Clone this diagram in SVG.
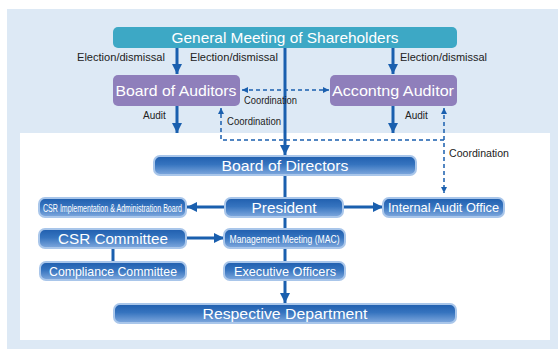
<svg xmlns="http://www.w3.org/2000/svg" width="558" height="349" viewBox="0 0 558 349">
<defs>
<linearGradient id="gb" x1="0" y1="0" x2="0" y2="1">
<stop offset="0" stop-color="#1f5eae"/>
<stop offset="0.45" stop-color="#3674bf"/>
<stop offset="1" stop-color="#80a9de"/>
</linearGradient>
<marker id="ah" viewBox="0 0 10 10" refX="10" refY="5" markerWidth="10" markerHeight="10" markerUnits="userSpaceOnUse" orient="auto-start-reverse">
<path d="M0,0 L10,5 L0,10 Z" fill="#1a5fae"/>
</marker>
<marker id="dh" viewBox="0 0 10 10" refX="10" refY="5" markerWidth="6" markerHeight="6" markerUnits="userSpaceOnUse" orient="auto-start-reverse">
<path d="M0,0 L10,5 L0,10 Z" fill="#1a5fae"/>
</marker>
<style>
.t{font-family:"Liberation Sans",Arial,sans-serif;fill:#fff;text-anchor:middle}
.s{font-family:"Liberation Sans",Arial,sans-serif;fill:#222;font-size:10px}
.bx{fill:url(#gb);stroke:#a9c6ea;stroke-width:2}
.c{stroke:#1a5fae;stroke-width:3;fill:none}
.d{stroke:#1a5fae;stroke-width:1.5;fill:none;stroke-dasharray:4 3}
</style>
</defs>
<rect x="7" y="9" width="551" height="340" fill="#dde9f5"/>
<rect x="20" y="133" width="530" height="207" fill="#fff"/>

<g id="connectors">
<line class="c" x1="177" y1="48" x2="177" y2="74" marker-end="url(#ah)"/>
<line class="c" x1="393" y1="48" x2="393" y2="74" marker-end="url(#ah)"/>
<line class="c" x1="285" y1="48" x2="285" y2="155" marker-end="url(#ah)"/>
<line class="c" x1="177" y1="106" x2="177" y2="133" marker-end="url(#ah)"/>
<line class="c" x1="393" y1="106" x2="393" y2="133" marker-end="url(#ah)"/>
<line class="c" x1="285" y1="175" x2="285" y2="198"/>
<line class="c" x1="225" y1="207" x2="187" y2="207" marker-end="url(#ah)"/>
<line class="c" x1="343" y1="207" x2="383" y2="207" marker-end="url(#ah)"/>
<line class="c" x1="285" y1="217" x2="285" y2="228"/>
<line class="c" x1="186" y1="238" x2="224" y2="238" marker-end="url(#ah)"/>
<line class="c" x1="113" y1="248" x2="113" y2="262"/>
<line class="c" x1="285" y1="248" x2="285" y2="262"/>
<line class="c" x1="285" y1="280" x2="285" y2="303" marker-end="url(#ah)"/>
<line class="d" x1="242" y1="90" x2="329" y2="90" marker-start="url(#dh)" marker-end="url(#dh)"/>
<path class="d" d="M444,140 L221,140 L221,108" marker-end="url(#dh)"/>
<line class="d" x1="444" y1="108" x2="444" y2="193" marker-start="url(#dh)" marker-end="url(#dh)"/>
<text class="s" x="77" y="61" textLength="88" lengthAdjust="spacingAndGlyphs">Election/dismissal</text>
<text class="s" x="190" y="61" textLength="88" lengthAdjust="spacingAndGlyphs">Election/dismissal</text>
<text class="s" x="400" y="61" textLength="87" lengthAdjust="spacingAndGlyphs">Election/dismissal</text>
<text class="s" x="143" y="119">Audit</text>
<text class="s" x="405" y="119">Audit</text>
<text class="s" x="244" y="104" textLength="53" lengthAdjust="spacingAndGlyphs">Coordination</text>
<text class="s" x="227" y="124.5" textLength="54" lengthAdjust="spacingAndGlyphs">Coordination</text>
<text class="s" x="449" y="157" textLength="60" lengthAdjust="spacingAndGlyphs">Coordination</text>
</g>

<g id="general-meeting">
<rect x="113" y="27" width="344" height="21" rx="5" fill="#3da8c5"/>
<text class="t" x="285" y="43" font-size="15" textLength="227" lengthAdjust="spacingAndGlyphs">General Meeting of Shareholders</text>
</g>
<g id="board-of-auditors">
<rect x="113" y="75" width="127" height="31" rx="5" fill="#8f7fbb"/>
<text class="t" x="176" y="96" font-size="15" textLength="121" lengthAdjust="spacingAndGlyphs">Board of Auditors</text>
</g>
<g id="accounting-auditor">
<rect x="330" y="75" width="127" height="31" rx="5" fill="#8f7fbb"/>
<text class="t" x="393" y="96" font-size="15" textLength="122" lengthAdjust="spacingAndGlyphs">Accontng Auditor</text>
</g>
<g id="board-of-directors">
<rect class="bx" x="154" y="156" width="262" height="19" rx="6"/>
<text class="t" x="285" y="170.5" font-size="15" textLength="127" lengthAdjust="spacingAndGlyphs">Board of Directors</text>
</g>
<g id="president">
<rect class="bx" x="225" y="198" width="118" height="19" rx="6"/>
<text class="t" x="284" y="212.5" font-size="15" textLength="65" lengthAdjust="spacingAndGlyphs">President</text>
</g>
<g id="csr-implementation">
<rect class="bx" x="39" y="198" width="147" height="19" rx="6"/>
<text class="t" x="112.5" y="211.5" font-size="11" textLength="139" lengthAdjust="spacingAndGlyphs">CSR Implementation &amp; Administration Board</text>
</g>
<g id="internal-audit-office">
<rect class="bx" x="383" y="198" width="121" height="19" rx="6"/>
<text class="t" x="443.5" y="212" font-size="13" textLength="111" lengthAdjust="spacingAndGlyphs">Internal Audit Office</text>
</g>
<g id="csr-committee">
<rect class="bx" x="39" y="229" width="147" height="19" rx="6"/>
<text class="t" x="113" y="243.5" font-size="15" textLength="110" lengthAdjust="spacingAndGlyphs">CSR Committee</text>
</g>
<g id="management-meeting">
<rect class="bx" x="224" y="229" width="121" height="19" rx="6"/>
<text class="t" x="284.5" y="242.5" font-size="11" textLength="110" lengthAdjust="spacingAndGlyphs">Management Meeting (MAC)</text>
</g>
<g id="compliance-committee">
<rect class="bx" x="40" y="262" width="146" height="18" rx="6"/>
<text class="t" x="113" y="276" font-size="13" textLength="128" lengthAdjust="spacingAndGlyphs">Compliance Committee</text>
</g>
<g id="executive-officers">
<rect class="bx" x="224" y="262" width="121" height="18" rx="6"/>
<text class="t" x="285" y="276" font-size="13" textLength="102" lengthAdjust="spacingAndGlyphs">Executive Officers</text>
</g>
<g id="respective-department">
<rect class="bx" x="114" y="304" width="342" height="19" rx="6"/>
<text class="t" x="285" y="318.5" font-size="15" textLength="165" lengthAdjust="spacingAndGlyphs">Respective Department</text>
</g>
</svg>
